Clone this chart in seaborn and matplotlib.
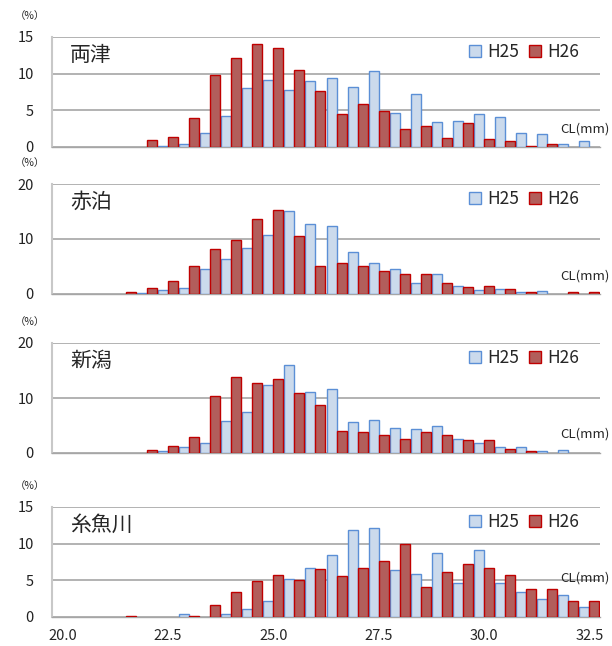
import matplotlib
matplotlib.use('Agg')
import matplotlib.pyplot as plt
import seaborn as sns
import pandas as pd
import numpy as np

# CL classes (mm), 0.5 mm steps
cl_labels = ['20.0', '20.5', '21.0', '21.5', '22.0', '22.5', '23.0', '23.5', '24.0', '24.5',
             '25.0', '25.5', '26.0', '26.5', '27.0', '27.5', '28.0', '28.5', '29.0', '29.5',
             '30.0', '30.5', '31.0', '31.5', '32.0', '32.5']
shown_labels = ['20.0', '22.5', '25.0', '27.5', '30.0', '32.5']
years = ['H25', 'H26']
N = None

# 両津
ryotsu_h25 = [N, N, N, N, N, 0.2, 0.45, 1.9, 4.2, 8.1, 9.2, 7.8, 8.95, 9.35, 8.2, 10.35,
              4.6, 7.2, 3.45, 3.6, 4.45, 4.05, 1.9, 1.75, 0.45, 0.8]
ryotsu_h26 = [N, N, N, N, 0.9, 1.3, 4.0, 9.8, 12.1, 14.1, 13.5, 10.5, 7.6, 4.45, 5.8, 4.9,
              2.45, 2.9, 1.2, 3.3, 1.05, 0.8, 0.2, 0.35, N, N]
# 赤泊
akadomari_h25 = [N, N, N, N, 0.2, 0.7, 1.15, 4.6, 6.3, 8.4, 10.7, 15.1, 12.8, 12.4, 7.6, 5.7,
                 4.6, 2.05, 3.6, 1.45, 0.7, 0.9, 0.35, 0.55, N, N]
akadomari_h26 = [N, N, N, 0.4, 1.0, 2.4, 5.0, 8.1, 9.8, 13.6, 15.3, 10.5, 5.15, 5.7, 5.15, 4.2,
                 3.6, 3.6, 2.05, 1.35, 1.5, 0.9, 0.35, N, 0.35, 0.35]
# 新潟
niigata_h25 = [N, N, N, N, N, 0.4, 1.15, 1.75, 5.75, 7.45, 12.45, 15.95, 11.1, 11.7, 5.55, 6.0,
               4.6, 4.4, 5.0, 2.55, 1.75, 1.15, 1.15, 0.35, 0.55, N]
niigata_h26 = [N, N, N, N, 0.6, 1.3, 2.9, 10.35, 13.8, 12.7, 13.4, 10.9, 8.8, 4.05, 3.85, 3.25,
               2.5, 3.85, 3.25, 2.3, 2.35, 0.8, 0.4, N, N, N]
# 糸魚川
itoigawa_h25 = [N, N, N, N, N, N, 0.35, N, 0.35, 1.15, 2.25, 5.15, 6.7, 8.4, 11.9, 12.2,
                6.45, 5.8, 8.7, 4.7, 9.2, 4.7, 3.35, 2.5, 3.0, 1.3]
itoigawa_h26 = [N, N, N, 0.1, N, N, 0.1, 1.7, 3.35, 4.85, 5.7, 5.0, 6.6, 5.55, 6.7, 7.6,
                9.9, 4.15, 6.15, 7.2, 6.7, 5.7, 3.85, 3.85, 2.15, 2.15]

stations = ['両津', '赤泊', '新潟', '糸魚川']
h25_data = [ryotsu_h25, akadomari_h25, niigata_h25, itoigawa_h25]
h26_data = [ryotsu_h26, akadomari_h26, niigata_h26, itoigawa_h26]
y_max = [15, 20, 20, 15]
y_step = [5, 10, 10, 5]

sns.set_style('white')
plt.rcParams['font.family'] = ['Noto Sans CJK JP', 'DejaVu Sans']

face = {'H25': '#c6d9f1', 'H26': '#c0504d'}
edge = {'H25': '#5b8fd6', 'H26': '#c00000'}

fig = plt.figure(figsize=(6.12, 6.46), dpi=100)
W, H = 612, 646
x0, x1 = 52, 600
panel_tops = [37, 184, 343, 507]
panel_h = 110
cl_pos = [0.164, 0.164, 0.17, 0.355]

for i, name in enumerate(stations):
    top = panel_tops[i]
    ax = fig.add_axes([x0 / W, 1 - (top + panel_h) / H, (x1 - x0) / W, panel_h / H])

    df = pd.DataFrame({
        'CL': cl_labels * 2,
        'year': ['H25'] * len(cl_labels) + ['H26'] * len(cl_labels),
        'pct': [np.nan if v is None else v for v in h25_data[i] + h26_data[i]],
    })
    sns.barplot(data=df, x='CL', y='pct', hue='year', order=cl_labels, hue_order=years,
                palette=face, width=0.95, linewidth=1.0, errorbar=None, legend=False,
                ax=ax, zorder=3)
    for cont, yr in zip(ax.containers, years):
        for p in cont:
            p.set_edgecolor(edge[yr])
            p.set_linewidth(1.0)

    ax.set_xlim(-0.5, 25.5)
    ax.set_ylim(0, y_max[i])
    ax.set_yticks(range(0, y_max[i] + 1, y_step[i]))
    ax.yaxis.grid(True, color='#a6a6a6', lw=1.2, zorder=0)
    ax.set_axisbelow(True)
    ax.tick_params(axis='y', length=0, labelsize=10.5, pad=13, colors='#222222')

    ax.set_xticks([cl_labels.index(s) for s in shown_labels])
    ax.set_xticks(np.arange(-0.5, 26, 1.0), minor=True)
    ax.tick_params(axis='x', which='major', length=0, labelsize=10.5, pad=9)
    ax.tick_params(axis='x', which='minor', length=4, width=0.8, color='#a6a6a6', direction='out')
    if i == 3:
        ax.set_xticklabels(shown_labels)
    else:
        ax.set_xticklabels([])
    ax.set_xlabel('')
    ax.set_ylabel('')

    for s in ['top', 'right']:
        ax.spines[s].set_visible(False)
    ax.spines['left'].set_color('#c8c8c8')
    ax.spines['left'].set_linewidth(1.5)
    ax.spines['bottom'].set_color('#a6a6a6')
    ax.spines['bottom'].set_linewidth(1.0)

    ax.text(0.033, 0.836, name, transform=ax.transAxes, fontsize=15, va='center', ha='left')
    ax.text(1.018, cl_pos[i], 'CL(mm)', transform=ax.transAxes, fontsize=9.5,
            va='center', ha='right')
    ax.text(-0.04, 1.19, '（%）', transform=ax.transAxes, fontsize=7.5, va='center', ha='center')

    leg = ax.legend(ax.containers, years, loc='center right', bbox_to_anchor=(0.975, 0.86),
                    ncol=2, frameon=False, fontsize=12.5, handlelength=0.7, handleheight=0.7,
                    handletextpad=0.35, columnspacing=0.6, borderaxespad=0)

plt.savefig('out.png', dpi=100)
